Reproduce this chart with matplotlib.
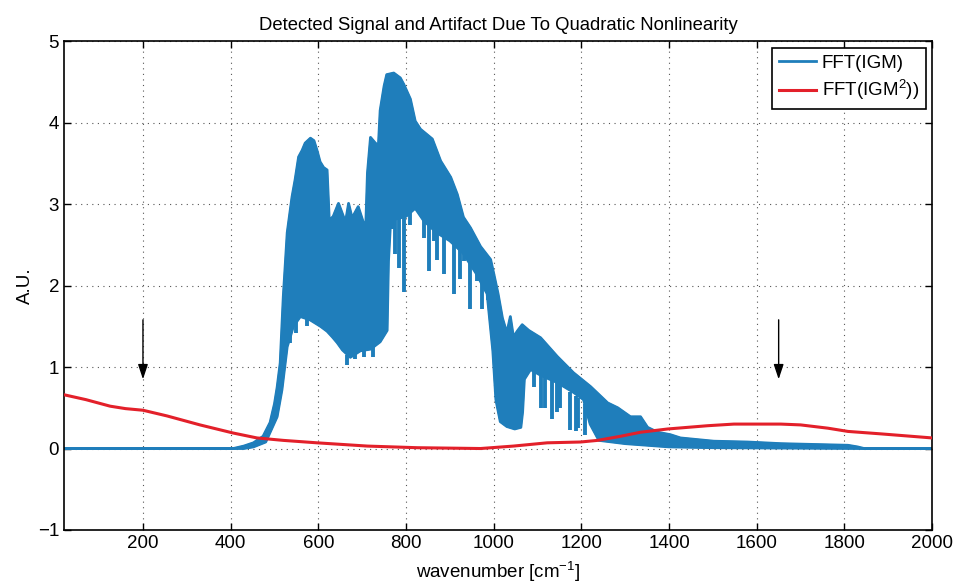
import numpy as np
import matplotlib
matplotlib.use("Agg")
import matplotlib.pyplot as plt

plt.rcParams['font.family'] = ['Liberation Sans', 'DejaVu Sans']
plt.rcParams['mathtext.default'] = 'regular'

# FFT(IGM): upper edge of the dense spectrum band
up_x = [20, 406, 430, 452, 474, 490, 500, 506, 513, 520, 529, 540, 547, 555, 563, 570, 582,
        590, 597, 604, 612, 620, 625, 634, 646, 662, 669, 677, 691, 703, 708, 712, 719, 730,
        737, 741, 750, 756, 772, 787, 795, 810, 821, 833, 860, 879, 902, 917, 931, 947, 970,
        993, 1000, 1010, 1020, 1030, 1038, 1045, 1055, 1065, 1080, 1107, 1145, 1182, 1221,
        1260, 1283, 1312, 1335, 1351, 1374, 1403, 1426, 1502, 1579, 1655, 1730, 1808, 1830,
        1845, 2000]
up_y = [0.0, 0.0, 0.03, 0.07, 0.15, 0.32, 0.55, 0.75, 1.05, 1.86, 2.65, 3.09, 3.3, 3.58, 3.66,
        3.75, 3.81, 3.78, 3.66, 3.52, 3.45, 3.42, 2.8, 2.85, 3.01, 2.78, 3.01, 2.83, 2.97, 2.77,
        2.7, 3.38, 3.82, 3.75, 3.72, 4.15, 4.45, 4.59, 4.61, 4.55, 4.47, 4.29, 4.02, 3.92, 3.8,
        3.53, 3.33, 3.12, 2.84, 2.71, 2.48, 2.32, 2.15, 1.9, 1.6, 1.42, 1.62, 1.37, 1.45, 1.52,
        1.45, 1.36, 1.13, 0.93, 0.76, 0.56, 0.5, 0.39, 0.39, 0.26, 0.2, 0.17, 0.13, 0.09, 0.08,
        0.06, 0.05, 0.04, 0.02, 0.0, 0.0]

# FFT(IGM): lower edge of the band
lo_x = [20, 406, 430, 452, 480, 506, 517, 529, 536, 543, 559, 581, 605, 620, 632, 643, 655,
        673, 696, 719, 741, 757, 760, 765, 800, 821, 840, 870, 900, 930, 960, 985, 998, 1005,
        1015, 1030, 1048, 1062, 1066, 1070, 1084, 1107, 1145, 1182, 1205, 1220, 1240, 1300,
        1400, 1500, 1840, 2000]
lo_y = [0.0, 0.0, 0.0, 0.02, 0.08, 0.39, 0.72, 1.25, 1.37, 1.5, 1.62, 1.58, 1.5, 1.44, 1.37,
        1.3, 1.21, 1.12, 1.2, 1.22, 1.31, 1.45, 2.3, 2.8, 2.85, 2.95, 2.8, 2.65, 2.55, 2.4, 2.15,
        1.9, 1.2, 0.6, 0.33, 0.27, 0.24, 0.26, 0.45, 0.85, 0.97, 0.9, 0.81, 0.69, 0.6, 0.3,
        0.1, 0.06, 0.02, 0.01, 0.0, 0.0]

# narrow absorption dips reaching below the band
dip_x = [536, 548, 575, 665, 683, 705, 725,
         768, 776, 783, 795, 810, 840, 853, 863, 871, 886, 909, 923, 932, 947, 963, 974, 986,
         1091, 1107, 1118, 1134, 1145, 1152, 1175, 1187, 1193, 1209]
dip_lo = [1.3, 1.42, 1.5, 1.02, 1.1, 1.12, 1.12,
          2.7, 2.39, 2.22, 1.92, 2.75, 2.59, 2.18, 2.55, 2.31, 2.14, 1.9, 2.08, 2.3, 1.71,
          2.06, 1.71, 1.82, 0.75, 0.5, 0.5, 0.36, 0.45, 0.5, 0.23, 0.22, 0.25, 0.17]
dip_hi = [1.5, 1.6, 1.6, 1.15, 1.2, 1.22, 1.25,
          3.0, 3.0, 3.0, 3.0, 3.0, 2.9, 2.8, 2.8, 2.7, 2.7, 2.6, 2.5, 2.5, 2.3, 2.2, 2.1, 2.0,
          1.0, 0.95, 0.9, 0.85, 0.8, 0.8, 0.7, 0.65, 0.62, 0.55]

# FFT(IGM^2)
red_x = [20, 70, 125, 160, 200, 255, 330, 406, 460, 520, 597, 712, 826, 970, 1045, 1122, 1198,
         1237, 1289, 1335, 1397, 1488, 1548, 1655, 1700, 1762, 1808, 1883, 2000]
red_y = [0.66, 0.6, 0.52, 0.49, 0.47, 0.4, 0.29, 0.19, 0.13, 0.1, 0.07, 0.03, 0.01, 0.0, 0.03,
         0.07, 0.08, 0.1, 0.15, 0.2, 0.24, 0.28, 0.3, 0.3, 0.29, 0.25, 0.21, 0.18, 0.13]

arrow_x = [200, 1650]
arrow_top = 1.58
arrow_tip = 0.85

blue = '#1f7ebb'
red = '#e3202a'

fig = plt.figure(figsize=(9.56, 5.86), dpi=100)
ax = fig.add_axes([0.067, 0.0956, 0.908, 0.834])

poly_x = np.concatenate([up_x, lo_x[::-1]])
poly_y = np.concatenate([up_y, lo_y[::-1]])
ax.fill(poly_x, poly_y, color=blue, lw=1.2, zorder=2)
ax.plot(up_x, up_y, color=blue, lw=2, label='FFT(IGM)', zorder=2)
ax.plot(lo_x, lo_y, color=blue, lw=2, zorder=2)
ax.vlines(dip_x, dip_lo, dip_hi, color=blue, lw=2.8, zorder=2)

ax.plot(red_x, red_y, color=red, lw=2.2, label='FFT(IGM$^2$))', zorder=3)

for xa in arrow_x:
    ax.annotate('', xy=(xa, arrow_tip), xytext=(xa, arrow_top),
                arrowprops=dict(arrowstyle='-|>,head_length=0.9,head_width=0.3',
                                color='black', lw=1.0, shrinkA=0, shrinkB=0), zorder=4)

ax.set_xlim(20, 2000)
ax.set_ylim(-1, 5)
ax.set_xticks(np.arange(200, 2001, 200))
ax.set_yticks(np.arange(-1, 6, 1))
ax.tick_params(direction='in', top=True, right=True, length=5, labelsize=13.5, width=1)
ax.grid(True, color='#555555', linestyle=(0, (1, 4)), lw=0.8)
for s in ax.spines.values():
    s.set_linewidth(1.2)

ax.set_title('Detected Signal and Artifact Due To Quadratic Nonlinearity', fontsize=13.3, pad=8)
ax.set_xlabel('wavenumber [cm$^{-1}$]', fontsize=13.5, labelpad=6)
ax.set_ylabel('A.U.', fontsize=13.5, labelpad=3)

leg = ax.legend(loc='upper right', fontsize=13.5, fancybox=False, framealpha=1,
                edgecolor='black', borderaxespad=0.35, handlelength=2.0, handletextpad=0.3,
                labelspacing=0.35, borderpad=0.35)
leg.get_frame().set_linewidth(1.2)

fig.savefig('out.png', dpi=100)
